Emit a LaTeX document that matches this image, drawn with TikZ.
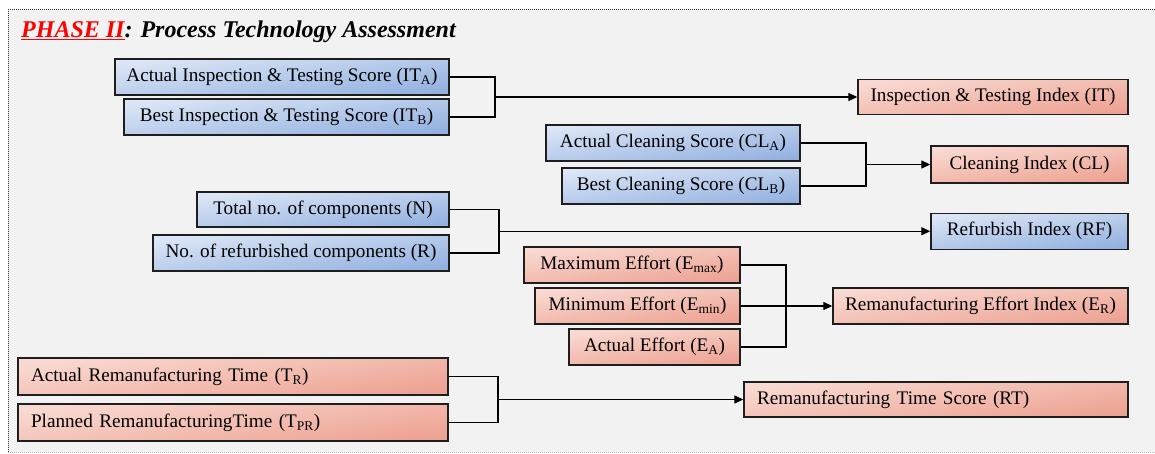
\documentclass[tikz,border=0pt]{standalone}
\usepackage{fontspec}
\setmainfont{Liberation Serif}
\usetikzlibrary{arrows.meta,calc}
\definecolor{bgray}{HTML}{F2F2F2}
\definecolor{bluel}{HTML}{DCE6F6}
\definecolor{blued}{HTML}{93B1E0}
\definecolor{pinkl}{HTML}{F9DAD2}
\definecolor{pinkd}{HTML}{EDA292}
\definecolor{edgec}{HTML}{1E1E1E}
\begin{document}
\begin{tikzpicture}[x=1pt,y=-1pt,
  box/.style={draw=edgec, line width=1.4pt, inner sep=0pt, font=\fontsize{19.2}{21}\selectfont},
  bluebox/.style={box, top color=bluel, bottom color=blued, shading angle=8},
  pinkbox/.style={box, top color=pinkl, bottom color=pinkd, shading angle=8},
  conn/.style={line width=1.3pt, black},
  arr/.style={conn, -{Triangle[length=9pt,width=8pt]}}
]
\useasboundingbox (0,0) rectangle (1155,454);
\clip (0,0) rectangle (1155,454);
\fill[white] (0,0) rectangle (1155,454);
\fill[bgray] (8,10) rectangle (1160,452);
\draw[line width=1pt, dash pattern=on 1pt off 1pt, black!80] (8,452) -- (8,10) -- (1160,10);
\draw[line width=1pt, dash pattern=on 1pt off 1pt, black!25] (8,452) -- (1160,452);

\node[anchor=base west, inner sep=0pt, font=\bfseries\itshape\fontsize{24}{26}\selectfont] (title) at (21,38)
  {\textcolor{red}{\underline{PHASE II}}: Process Technology Assessment};

% Inspection & testing
\node[bluebox, minimum width=334pt, minimum height=36pt] (ita) at (282,77) {Actual Inspection \& Testing Score (IT\textsubscript{A})};
\node[bluebox, minimum width=325pt, minimum height=36pt] (itb) at (286.5,117) {Best Inspection \& Testing Score (IT\textsubscript{B})};
\node[pinkbox, minimum width=270pt, minimum height=35pt] (iti) at (993,97) {Inspection \& Testing Index (IT)};
\coordinate (j1) at (495,97);
\draw[conn] (ita.east) -| (j1) |- (itb.east);
\draw[arr] (j1) -- (iti.west);

% Cleaning
\node[bluebox, minimum width=254pt, minimum height=36pt] (cla) at (673,143) {Actual Cleaning Score (CL\textsubscript{A})};
\node[bluebox, minimum width=238pt, minimum height=36pt] (clb) at (681,186) {Best Cleaning Score (CL\textsubscript{B})};
\node[pinkbox, minimum width=197pt, minimum height=37pt] (cli) at (1029.5,164.5) {Cleaning Index (CL)};
\coordinate (j2) at (866,164.5);
\draw[conn] (cla.east) -| (j2) |- (clb.east);
\draw[arr] (j2) -- (cli.west);

% Refurbish
\node[bluebox, minimum width=252pt, minimum height=35pt] (n) at (323,209.5) {Total no. of components (N)};
\node[bluebox, minimum width=296pt, minimum height=36pt] (r) at (301,253) {No. of refurbished components (R)};
\node[bluebox, minimum width=197pt, minimum height=36pt] (rfi) at (1029.5,231.25) {Refurbish Index (RF)};
\coordinate (j3) at (499,231.25);
\draw[conn] (n.east) -| (j3) |- (r.east);
\draw[arr] (j3) -- (rfi.west);

% Effort
\node[pinkbox, minimum width=216pt, minimum height=36pt] (emax) at (632,265) {Maximum Effort (E\textsubscript{max})};
\node[pinkbox, minimum width=205pt, minimum height=36pt] (emin) at (637.5,306) {Minimum Effort (E\textsubscript{min})};
\node[pinkbox, minimum width=171pt, minimum height=36pt] (ea) at (654.5,347) {Actual Effort (E\textsubscript{A})};
\node[pinkbox, minimum width=295pt, minimum height=36pt] (er) at (980.5,306) {Remanufacturing Effort Index (E\textsubscript{R})};
\coordinate (j4) at (786,306);
\draw[conn] (emax.east) -| (j4) |- (ea.east);
\draw[arr] (emin.east) -- (er.west);

% Time
\node[pinkbox, text width=404pt, inner xsep=13pt, align=left, minimum height=37pt] (tr) at (233,376.5) {Actual Remanufacturing Time (T\textsubscript{R})};
\node[pinkbox, text width=404pt, inner xsep=13pt, align=left, minimum height=37pt] (tpr) at (233,422.5) {Planned RemanufacturingTime (T\textsubscript{PR})};
\node[pinkbox, text width=358pt, inner xsep=13pt, align=left, minimum height=35pt] (rt) at (936,399.5) {Remanufacturing Time Score (RT)};
\coordinate (j5) at (498,399.5);
\draw[conn] (tr.east) -| (j5) |- (tpr.east);
\draw[arr] (j5) -- (rt.west);
\end{tikzpicture}
\end{document}
